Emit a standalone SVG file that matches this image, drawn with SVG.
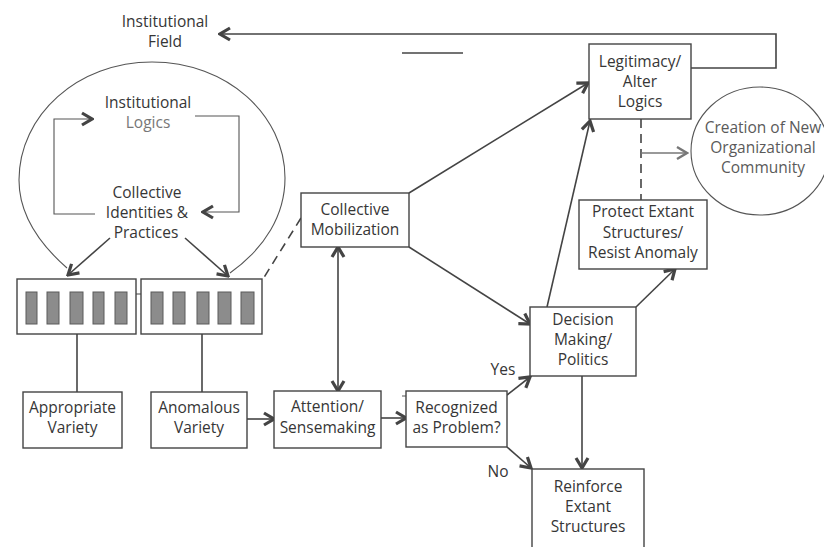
<svg xmlns="http://www.w3.org/2000/svg" width="824" height="547" viewBox="0 0 824 547">
<style>
text{font-family:"Open Sans","Noto Sans","Liberation Sans",sans-serif;font-size:15.5px;fill:#363636;text-anchor:middle}
.box{fill:#fff;stroke:#444;stroke-width:1.4}
.bar{fill:#8c8c8c;stroke:#5a5a5a;stroke-width:1}
.ln{fill:none;stroke:#444;stroke-width:1.6}
.thin{fill:none;stroke:#555;stroke-width:1.1}
.dash{fill:none;stroke:#444;stroke-width:1.6;stroke-dasharray:9 6}
.gray{fill:#5a5a5a}
.light{fill:#777}
.arr{marker-end:url(#ah)}
</style>
<defs>
<marker id="ah" viewBox="-13 -8 15 16" refX="0" refY="0" markerWidth="15" markerHeight="16" markerUnits="userSpaceOnUse" orient="auto-start-reverse">
<path d="M-10,-6 L0,0 L-10,6" fill="none" stroke="#444" stroke-width="3.2"/>
</marker>
<marker id="ahg" viewBox="-13 -8 15 16" refX="0" refY="0" markerWidth="15" markerHeight="16" markerUnits="userSpaceOnUse" orient="auto">
<path d="M-10,-6 L0,0 L-10,6" fill="none" stroke="#777" stroke-width="2.4"/>
</marker>
</defs>
<rect width="824" height="547" fill="#fff"/>

<g id="connectors">
<path class="ln arr" d="M691,68 L776,68 L776,34 L220,34"/>
<path class="ln" d="M402,53 L463,53"/>
<path class="thin arr" d="M95,214 L54,214 L54,119 L92,119"/>
<path class="thin arr" d="M195,116 L239,116 L239,212 L203,212"/>
<path class="ln arr" d="M110,238 L68,275"/>
<path class="ln arr" d="M185,238 L228,276"/>
<path class="thin" d="M136,294 L141,294"/>
<path class="ln" d="M77,334 L77,392"/>
<path class="ln" d="M202,334 L202,392"/>
<path class="ln arr" d="M247,419 L274,419"/>
<path class="ln arr" d="M381,418 L406,418"/>
<path class="ln" d="M338,247 L338,391" marker-start="url(#ah)" marker-end="url(#ah)"/>
<path class="dash" d="M301,218 L263,279"/>
<path class="ln arr" d="M409,193 L588,83"/>
<path class="ln arr" d="M409,247 L530,324"/>
<path class="ln arr" d="M507,395 L530,377"/>
<path class="ln arr" d="M507,447 L531,468"/>
<path class="ln arr" d="M582,376 L582,468"/>
<path class="ln arr" d="M547,307 L590,121"/>
<path class="ln arr" d="M636,307 L675,269"/>
<path class="dash" d="M641,119 L641,200"/>
<path fill="none" stroke="#777" stroke-width="1.5" marker-end="url(#ahg)" d="M641,153 L687,153"/>
<path class="thin" d="M402,396 L490,396"/>
</g>

<g id="institutional-field">
<text x="165" y="27">Institutional</text>
<text x="165" y="47">Field</text>
</g>

<g id="institutional-circle">
<path class="thin" d="M67,268 C35,240 19,210 19,180 C19,115 78,62 152,62 C227,62 285,115 285,178 C285,215 265,248 230,273"/>
</g>

<g id="institutional-logics">
<text x="148" y="108">Institutional</text>
<text x="148" y="128" class="light">Logics</text>
</g>

<g id="collective-identities">
<text x="147" y="198">Collective</text>
<text x="147" y="218">Identities &amp;</text>
<text x="146" y="238">Practices</text>
</g>

<g id="organizations-left">
<rect class="box" x="17" y="279" width="119" height="55"/>
<rect class="bar" x="26" y="292" width="11" height="32"/>
<rect class="bar" x="47" y="292" width="12" height="32"/>
<rect class="bar" x="70" y="292" width="13" height="32"/>
<rect class="bar" x="93" y="292" width="11" height="32"/>
<rect class="bar" x="115" y="292" width="12" height="32"/>
</g>

<g id="organizations-right">
<rect class="box" x="141" y="279" width="121" height="55"/>
<rect class="bar" x="151" y="292" width="12" height="32"/>
<rect class="bar" x="173" y="292" width="12" height="32"/>
<rect class="bar" x="197" y="292" width="12" height="32"/>
<rect class="bar" x="218" y="292" width="13" height="32"/>
<rect class="bar" x="241" y="292" width="13" height="32"/>
</g>

<g id="appropriate-variety">
<rect class="box" x="23" y="392" width="99" height="56"/>
<text x="72.5" y="413">Appropriate</text>
<text x="72.5" y="433">Variety</text>
</g>

<g id="anomalous-variety">
<rect class="box" x="151" y="392" width="96" height="56"/>
<text x="199" y="413">Anomalous</text>
<text x="199" y="433">Variety</text>
</g>

<g id="attention">
<rect class="box" x="274" y="391" width="107" height="57"/>
<text x="327.5" y="412">Attention/</text>
<text x="327.5" y="433">Sensemaking</text>
</g>

<g id="recognized">
<rect class="box" x="406" y="391" width="101" height="56"/>
<text x="456.5" y="413">Recognized</text>
<text x="456.5" y="433">as Problem?</text>
</g>

<g id="labels">
<text x="503" y="375">Yes</text>
<text x="498" y="477">No</text>
</g>

<g id="collective-mobilization">
<rect class="box" x="301" y="193" width="108" height="54"/>
<text x="355" y="215">Collective</text>
<text x="355" y="235">Mobilization</text>
</g>

<g id="decision-making">
<rect class="box" x="530" y="307" width="106" height="69"/>
<text x="583" y="325">Decision</text>
<text x="583" y="345">Making/</text>
<text x="583" y="365">Politics</text>
</g>

<g id="reinforce">
<rect class="box" x="532" y="469" width="112" height="90"/>
<text x="588" y="492">Reinforce</text>
<text x="588" y="512">Extant</text>
<text x="588" y="532">Structures</text>
</g>

<g id="legitimacy">
<rect class="box" x="589" y="44" width="102" height="75"/>
<text x="640" y="67">Legitimacy/</text>
<text x="640" y="87">Alter</text>
<text x="640" y="107">Logics</text>
</g>

<g id="protect">
<rect class="box" x="579" y="200" width="128" height="69"/>
<text x="643" y="217">Protect Extant</text>
<text x="643" y="238">Structures/</text>
<text x="643" y="258">Resist Anomaly</text>
</g>

<g id="creation">
<ellipse cx="760" cy="151" rx="69" ry="64" fill="none" stroke="#555" stroke-width="1.1"/>
<text x="763" y="133" class="gray">Creation of New</text>
<text x="763" y="153" class="gray">Organizational</text>
<text x="763" y="173" class="gray">Community</text>
</g>
</svg>
